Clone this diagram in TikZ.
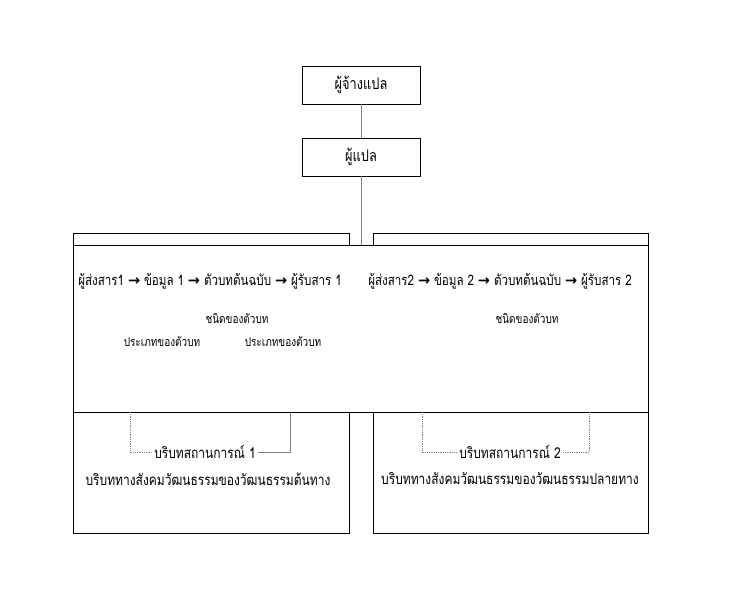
\documentclass[tikz,border=0pt]{standalone}
\usepackage{fontspec}
\newfontfamily\thaifont[Script=Thai,FakeStretch=0.8]{Loma}
\newfontfamily\symfont{DejaVu Sans}
\tikzstyle{topbox} = [rectangle, minimum width=118pt, minimum height=38pt, text centered, draw=black, line width=0.8pt, font=\thaifont\fontsize{16}{18}\selectfont]
\tikzstyle{flow} = [font=\thaifont\fontsize{14.5}{16}\selectfont, inner sep=0]
\tikzstyle{kind} = [font=\thaifont\fontsize{12.5}{14}\selectfont, inner sep=0]
\tikzstyle{ctx} = [font=\thaifont\fontsize{15}{17}\selectfont, inner sep=2pt]
\tikzstyle{link} = [gray, line width=0.8pt]
\tikzstyle{dotlink} = [gray, densely dotted, line width=0.8pt]
\newcommand{\nxt}{~{\symfont\bfseries →}~}

\begin{document}
\begin{tikzpicture}[x=1pt,y=-1pt]
\useasboundingbox (0,0) rectangle (734,606);
% two halves, middle band on top
\draw[line width=0.8pt] (73,233) rectangle (349,533);
\draw[line width=0.8pt] (373,233) rectangle (648,533);
\draw[line width=0.8pt,fill=white] (73,245) rectangle (648,412);

\node[topbox] (client) at (361,85) {ผู้จ้างแปล};
\node[topbox] (translator) at (361,157) {ผู้แปล};
\coordinate (band) at (361,245);
\draw[link] (client) -- (translator);
\draw[link] (translator) -- (band);

% source side
\node[flow] (chain1) at (210,281) {ผู้ส่งสาร1\nxt ข้อมูล 1\nxt ตัวบทต้นฉบับ\nxt ผู้รับสาร 1};
\node[kind] (kind1) at (237,319) {ชนิดของตัวบท};
\node[kind] (genreA) at (162,342) {ประเภทของตัวบท};
\node[kind] (genreB) at (283,342) {ประเภทของตัวบท};
\node[ctx] (sit1) at (205,452) {บริบทสถานการณ์ 1};
\node[ctx] (cult1) at (208,479) {บริบททางสังคมวัฒนธรรมของวัฒนธรรมต้นทาง};
\coordinate (s1a) at (130,412);
\coordinate (s1b) at (290,412);
\draw[dotlink] (s1a) |- (sit1.west);
\draw[link] (sit1.east) -| (s1b);

% target side
\node[flow] (chain2) at (500,281) {ผู้ส่งสาร2\nxt ข้อมูล 2\nxt ตัวบทต้นฉบับ\nxt ผู้รับสาร 2};
\node[kind] (kind2) at (527,319) {ชนิดของตัวบท};
\node[ctx] (sit2) at (510,452) {บริบทสถานการณ์ 2};
\node[ctx] (cult2) at (510,479) {บริบททางสังคมวัฒนธรรมของวัฒนธรรมปลายทาง};
\coordinate (s2a) at (422,412);
\coordinate (s2b) at (589,412);
\draw[dotlink] (s2a) |- (sit2.west);
\draw[dotlink] (sit2.east) -| (s2b);
\end{tikzpicture}
\end{document}
